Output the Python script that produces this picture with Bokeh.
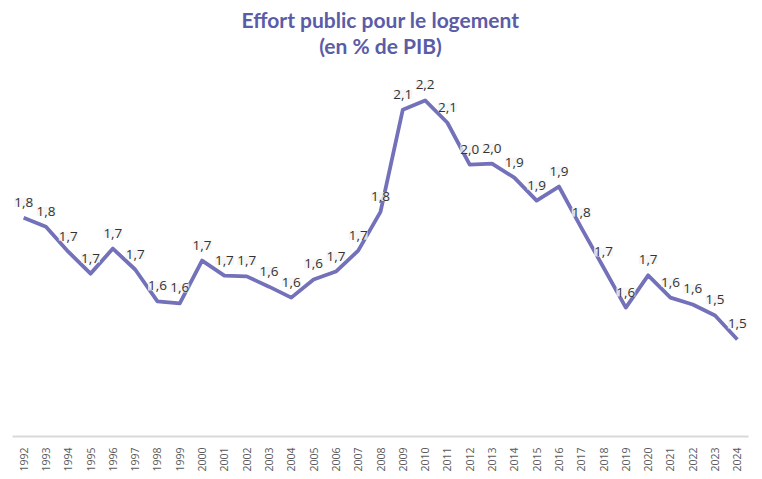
from bokeh.plotting import figure
from bokeh.models import Range1d, FixedTicker, ColumnDataSource, LabelSet
from bokeh.core.properties import value
from bokeh.embed import file_html
from bokeh.resources import INLINE
import math

years = list(range(1992, 2025))
effort = [1.823, 1.797, 1.724, 1.66, 1.733, 1.672, 1.579, 1.573, 1.698, 1.654,
          1.652, 1.622, 1.590, 1.643, 1.666, 1.727, 1.84, 2.138, 2.165, 2.100,
          1.978, 1.981, 1.94, 1.873, 1.914, 1.794, 1.678, 1.561, 1.655, 1.590,
          1.570, 1.538, 1.468]
point_labels = ["1,8", "1,8", "1,7", "1,7", "1,7", "1,7", "1,6", "1,6", "1,7", "1,7",
                "1,7", "1,6", "1,6", "1,6", "1,7", "1,7", "1,8", "2,1", "2,2", "2,1",
                "2,0", "2,0", "1,9", "1,9", "1,9", "1,8", "1,7", "1,6", "1,7", "1,6",
                "1,6", "1,5", "1,5"]
year_labels = [str(y) for y in years]
title_lines = ["Effort public pour le logement", "(en % de PIB)"]

y_start, y_end = 1.185, 2.439

p = figure(width=752, height=477, output_backend="svg", toolbar_location=None,
           x_range=Range1d(1991.5, 2024.5), y_range=Range1d(y_start, y_end),
           y_axis_location=None, min_border_left=12, min_border_right=4,
           min_border_top=6, min_border_bottom=41)
p.outline_line_color = None
p.xgrid.visible = False
p.ygrid.visible = False
p.background_fill_color = "white"
p.border_fill_color = "white"

src = ColumnDataSource(dict(x=years, y=effort, lab=point_labels))
p.line("x", "y", source=src, line_color="#7371b9", line_width=3.8, line_join="round")

labels = LabelSet(x="x", y="y", text="lab", source=src, y_offset=11,
                  text_align="center", text_baseline="bottom",
                  text_font=value("Open Sans"), text_font_size="13.5px",
                  text_color="#333333", background_fill_color="#f4f4f4",
                  background_fill_alpha=0.8)
p.add_layout(labels)

mid = sum(years) / len(years)
p.text(x=[mid], y=[y_end], text=[title_lines[0]], y_offset=13,
       text_align="center", text_baseline="middle", text_font=value("Lato"),
       text_font_style="bold", text_font_size="21px", text_color="#5a5ca8")
p.text(x=[mid], y=[y_end], text=[title_lines[1]], y_offset=39,
       text_align="center", text_baseline="middle", text_font=value("Lato"),
       text_font_style="bold", text_font_size="21px", text_color="#5a5ca8")

ax = p.xaxis[0]
ax.ticker = FixedTicker(ticks=years)
ax.major_label_overrides = {y: s for y, s in zip(years, year_labels)}
ax.major_label_orientation = math.pi / 2
ax.major_label_text_font = "Open Sans"
ax.major_label_text_font_size = "10.5px"
ax.major_label_text_color = "#595959"
ax.major_label_standoff = 11
ax.axis_label_standoff = 0
ax.axis_line_color = "#d9d9d9"
ax.axis_line_width = 2
ax.major_tick_line_color = None
ax.minor_tick_line_color = None
ax.major_tick_out = 0
ax.major_tick_in = 0
ax.minor_tick_out = 0
ax.minor_tick_in = 0

open("out.html", "w").write(file_html(p, INLINE))
